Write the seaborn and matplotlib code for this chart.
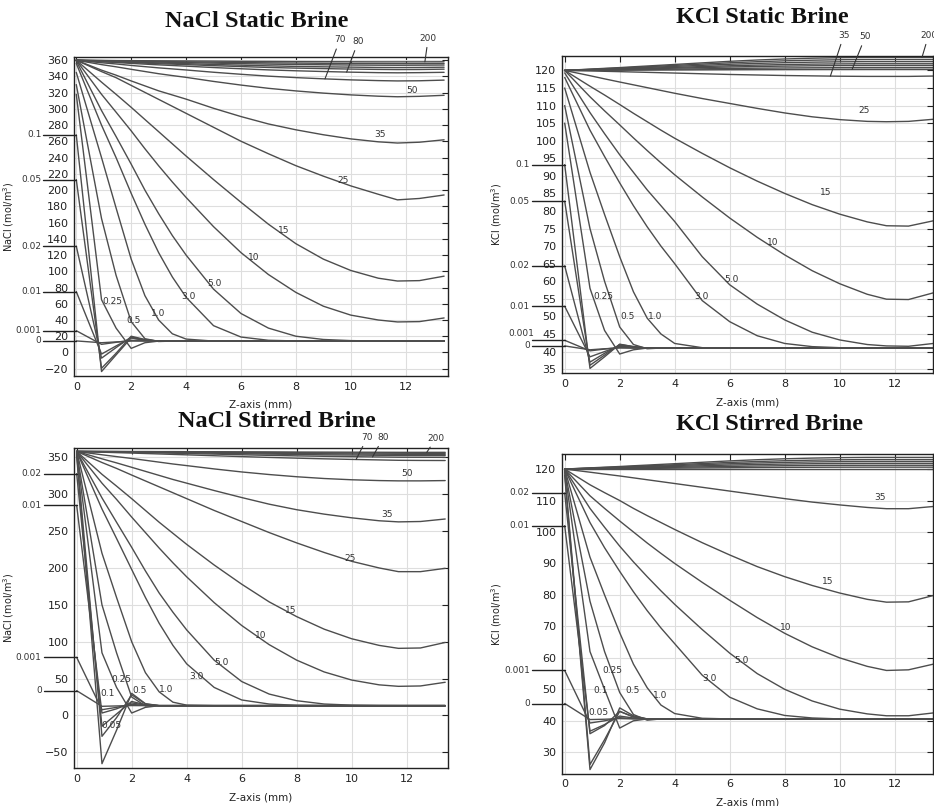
import numpy as np
import pandas as pd
import matplotlib
matplotlib.use("Agg")
import matplotlib.pyplot as plt
import seaborn as sns

# Sampling positions along the Z-axis (mm), shared by every profile
Z_MM = [0, 0.92, 1.45, 2.0, 2.5, 3.0, 3.5, 4.0, 5.0, 6.0, 7.0, 8.0, 9.0, 10.0, 11.0, 11.7, 12.5, 13.4]

# ---------------- NaCl, static brine (mol/m^3) ----------------
NACL_STATIC_TIMES = ["0", "0.001", "0.01", "0.02", "0.05", "0.1", "0.25", "0.5", "1.0", "3.0",
                     "5.0", "10", "15", "25", "35", "50", "70", "80", "100", "120", "150", "175", "200"]
NACL_STATIC = [
    [14.2, 12, 13, 14, 14, 14, 14, 14, 14, 14, 14, 14, 14, 14, 14, 14, 14, 14],
    [26.8, 10, 12.5, 15, 14.5, 14, 14, 14, 14, 14, 14, 14, 14, 14, 14, 14, 14, 14],
    [75, -2, 8, 18, 15, 14, 14, 14, 14, 14, 14, 14, 14, 14, 14, 14, 14, 14],
    [131, -7, 6, 19, 15.5, 14, 14, 14, 14, 14, 14, 14, 14, 14, 14, 14, 14, 14],
    [213, -19.5, -1, 20, 16, 14, 14, 14, 14, 14, 14, 14, 14, 14, 14, 14, 14, 14],
    [268, -23.5, -3, 18, 15, 14, 14, 14, 14, 14, 14, 14, 14, 14, 14, 14, 14, 14],
    [318, 65, 30, 5, 12, 14, 14, 14, 14, 14, 14, 14, 14, 14, 14, 14, 14, 14],
    [330, 165, 95, 38, 17, 13.5, 14, 14, 14, 14, 14, 14, 14, 14, 14, 14, 14, 14],
    [345, 240, 178, 115, 70, 40, 23, 16.5, 14, 14, 14, 14, 14, 14, 14, 14, 14, 14],
    [356, 280, 240, 196, 158, 123, 93, 68, 33, 19, 15, 14.2, 14, 14, 14, 14, 14, 14],
    [359, 298, 266, 232, 200, 171, 144, 120, 78, 48, 30, 20, 16, 14.6, 14.1, 14, 14, 14],
    [360, 318, 296, 273, 251, 230, 210, 191, 155, 123, 96, 74, 57, 46, 40, 37.6, 38, 42.5],
    [360, 333, 318, 302, 287, 272, 257, 242, 213, 185, 158, 134, 115, 101, 91.5, 88, 88.5, 94],
    [360, 346, 338.5, 329, 320.4, 311.8, 303.2, 294.6, 277.4, 260.2, 244.8, 230.1, 217.2, 205.2, 194.9, 188, 189.7, 194],
    [360, 347.8, 341.6, 334.5, 328.4, 322.3, 317.2, 312.1, 300.8, 290.6, 281.5, 274.3, 268.2, 263.1, 259.5, 258, 259, 262],
    [360, 354.6, 351.9, 348.8, 346.1, 343.4, 341.1, 338.9, 333.9, 329.4, 325.4, 322.2, 319.5, 317.3, 315.7, 315, 315.5, 316.8],
    [360, 356.9, 355.4, 353.6, 352.1, 350.6, 349.3, 348.0, 345.2, 342.7, 340.4, 338.6, 337.1, 335.8, 334.9, 334.5, 334.7, 335.5],
    [360, 358.1, 357.2, 356.1, 355.2, 354.3, 353.5, 352.7, 351.0, 349.5, 348.1, 347.0, 346.1, 345.3, 344.7, 344.5, 344.7, 345.1],
    [360, 358.6, 357.9, 357.1, 356.4, 355.7, 355.2, 354.6, 353.3, 352.2, 351.1, 350.3, 349.7, 349.1, 348.7, 348.5, 348.6, 349.0],
    [360, 358.9, 358.4, 357.8, 357.2, 356.7, 356.2, 355.8, 354.8, 353.9, 353.1, 352.4, 351.9, 351.5, 351.1, 351.0, 351.1, 351.4],
    [360, 359.3, 358.9, 358.5, 358.1, 357.7, 357.4, 357.1, 356.4, 355.8, 355.2, 354.8, 354.4, 354.1, 353.9, 353.8, 353.9, 354.1],
    [360, 359.5, 359.2, 358.9, 358.7, 358.4, 358.2, 358.0, 357.6, 357.1, 356.8, 356.5, 356.2, 356.0, 355.9, 355.8, 355.8, 356.0],
    [360, 359.8, 359.6, 359.5, 359.4, 359.3, 359.2, 359.1, 358.9, 358.6, 358.5, 358.3, 358.2, 358.1, 358.0, 358.0, 358.0, 358.1],
]

# ---------------- KCl, static brine (mol/m^3) ----------------
KCL_STATIC_TIMES = ["0", "0.001", "0.01", "0.02", "0.05", "0.1", "0.25", "0.5", "1.0", "3.0",
                    "5.0", "10", "15", "25", "35", "50", "70", "80", "100", "120", "150", "200"]
KCL_STATIC = [
    [41.6, 40.5, 40.8, 41, 41, 41, 41, 41, 41, 41, 41, 41, 41, 41, 41, 41, 41, 41],
    [43.2, 40.2, 40.7, 41.2, 41, 41, 41, 41, 41, 41, 41, 41, 41, 41, 41, 41, 41, 41],
    [52.9, 38.5, 40, 41.5, 41.2, 41, 41, 41, 41, 41, 41, 41, 41, 41, 41, 41, 41, 41],
    [64.4, 37, 39.5, 41.8, 41.3, 41, 41, 41, 41, 41, 41, 41, 41, 41, 41, 41, 41, 41],
    [82.8, 36.1, 39, 42, 41.4, 41, 41, 41, 41, 41, 41, 41, 41, 41, 41, 41, 41, 41],
    [93.2, 35.2, 38.5, 42.1, 41.4, 41, 41, 41, 41, 41, 41, 41, 41, 41, 41, 41, 41, 41],
    [105, 58, 46, 39.3, 40.5, 41, 41, 41, 41, 41, 41, 41, 41, 41, 41, 41, 41, 41],
    [110, 75, 60, 47, 42, 40.8, 41, 41, 41, 41, 41, 41, 41, 41, 41, 41, 41, 41],
    [115, 91, 79, 67, 57, 49.5, 45, 42.3, 41.1, 41, 41, 41, 41, 41, 41, 41, 41, 41],
    [118, 103, 95.5, 88, 81.5, 75.5, 70, 65, 54.5, 48.5, 44.5, 42.3, 41.4, 41.1, 41, 41, 41, 41],
    [119.3, 108, 102, 96, 91, 86, 81.5, 77, 67, 59, 53.5, 49, 45.5, 43.3, 42, 41.6, 41.5, 42.3],
    [120, 112.5, 108.5, 104.5, 100.8, 97.2, 93.7, 90.3, 84, 78, 72.5, 67.5, 63, 59.3, 56.3, 54.9, 54.8, 56.7],
    [120, 115.5, 113, 110.3, 107.8, 105.4, 103, 100.7, 96.4, 92.3, 88.5, 85, 81.8, 79.1, 76.9, 75.8, 75.7, 77.2],
    [120, 118.5, 117.6, 116.7, 115.9, 115.1, 114.3, 113.5, 112, 110.6, 109.2, 107.9, 106.8, 106, 105.5, 105.4, 105.5, 106.1],
    [120, 119.85, 119.75, 119.65, 119.55, 119.45, 119.35, 119.25, 119.05, 118.85, 118.7, 118.55, 118.45, 118.35, 118.3, 118.3, 118.3, 118.4],
    [120, 120.02, 120.04, 120.06, 120.08, 120.1, 120.12, 120.14, 120.18, 120.21, 120.24, 120.26, 120.28, 120.29, 120.3, 120.3, 120.3, 120.3],
    [120, 120.08, 120.13, 120.18, 120.22, 120.27, 120.32, 120.37, 120.46, 120.56, 120.64, 120.7, 120.75, 120.78, 120.8, 120.8, 120.8, 120.8],
    [120, 120.14, 120.22, 120.31, 120.39, 120.48, 120.56, 120.64, 120.81, 120.98, 121.12, 121.23, 121.32, 121.37, 121.4, 121.4, 121.4, 121.4],
    [120, 120.19, 120.3, 120.42, 120.53, 120.65, 120.76, 120.87, 121.1, 121.33, 121.52, 121.67, 121.79, 121.86, 121.9, 121.9, 121.9, 121.9],
    [120, 120.25, 120.4, 120.55, 120.7, 120.85, 121.0, 121.15, 121.45, 121.75, 122.0, 122.2, 122.35, 122.45, 122.5, 122.5, 122.5, 122.5],
    [120, 120.31, 120.5, 120.68, 120.87, 121.05, 121.24, 121.43, 121.8, 122.17, 122.48, 122.73, 122.91, 123.04, 123.1, 123.1, 123.1, 123.1],
    [120, 120.37, 120.59, 120.81, 121.04, 121.26, 121.48, 121.7, 122.15, 122.59, 122.96, 123.26, 123.48, 123.63, 123.7, 123.7, 123.7, 123.7],
]

# ---------------- NaCl, stirred brine (mol/m^3) ----------------
NACL_STIRRED_TIMES = ["0", "0.001", "0.01", "0.02", "0.05", "0.1", "0.25", "0.5", "1.0", "3.0",
                      "5.0", "10", "15", "25", "35", "50", "70", "80", "100", "120", "150", "200"]
NACL_STIRRED = [
    [33.6, 12.4, 12.9, 13.4, 13.3, 13.3, 13.3, 13.3, 13.3, 13.3, 13.3, 13.3, 13.3, 13.3, 13.3, 13.3, 13.3, 13.3],
    [78.8, 7.8, 11, 15, 13.6, 13.3, 13.3, 13.3, 13.3, 13.3, 13.3, 13.3, 13.3, 13.3, 13.3, 13.3, 13.3, 13.3],
    [284.9, 3.3, 9, 17, 14, 13.3, 13.3, 13.3, 13.3, 13.3, 13.3, 13.3, 13.3, 13.3, 13.3, 13.3, 13.3, 13.3],
    [327.9, -14.7, 2, 19, 14.5, 13.3, 13.3, 13.3, 13.3, 13.3, 13.3, 13.3, 13.3, 13.3, 13.3, 13.3, 13.3, 13.3],
    [352, -65.4, -20, 30, 16, 13.3, 13.3, 13.3, 13.3, 13.3, 13.3, 13.3, 13.3, 13.3, 13.3, 13.3, 13.3, 13.3],
    [355, -28.3, -3, 28, 15.5, 13.3, 13.3, 13.3, 13.3, 13.3, 13.3, 13.3, 13.3, 13.3, 13.3, 13.3, 13.3, 13.3],
    [356, 85, 38, 3.3, 11, 13.3, 13.3, 13.3, 13.3, 13.3, 13.3, 13.3, 13.3, 13.3, 13.3, 13.3, 13.3, 13.3],
    [357, 150, 85, 25, 13, 13.3, 13.3, 13.3, 13.3, 13.3, 13.3, 13.3, 13.3, 13.3, 13.3, 13.3, 13.3, 13.3],
    [358, 220, 160, 100, 58, 32, 18, 14, 13.3, 13.3, 13.3, 13.3, 13.3, 13.3, 13.3, 13.3, 13.3, 13.3],
    [358, 280, 240, 198, 160, 125, 95, 70, 38, 21, 15.5, 13.8, 13.4, 13.3, 13.3, 13.3, 13.3, 13.3],
    [358, 295, 262, 228, 196, 166, 140, 116, 75, 46, 29, 20, 15.5, 14, 13.4, 13.3, 13.3, 13.3],
    [358, 315, 293, 269, 248, 227, 207, 188, 153, 122, 96, 75, 59, 48, 41.5, 39.5, 40, 45],
    [358, 327, 311, 294, 278, 262, 247, 232, 204, 178, 154, 134, 117, 104, 95, 91, 91.5, 99],
    [358, 343, 335, 326, 318, 310, 302, 294, 278, 263, 248, 234, 221, 209, 200, 195, 195, 199.5],
    [358, 348, 342.5, 336.5, 331, 325.5, 320, 315, 305, 295.5, 286.5, 279, 273, 268, 264, 262.5, 263, 266.4],
    [358, 353.5, 351, 348.5, 346, 343.5, 341, 338.8, 334.3, 330.2, 326.7, 323.7, 321.3, 319.6, 318.5, 318.1, 318.1, 318.5],
    [358, 357, 356.4, 355.8, 355.2, 354.6, 354, 353.4, 352.2, 351, 349.9, 348.9, 348, 347.2, 346.5, 346, 345.8, 345.7],
    [358, 357.5, 357.2, 356.8, 356.4, 356, 355.6, 355.2, 354.4, 353.5, 352.7, 352, 351.4, 350.9, 350.5, 350.2, 350.1, 350],
    [358, 357.7, 357.5, 357.3, 357.1, 356.8, 356.5, 356.2, 355.6, 355, 354.4, 353.9, 353.4, 353.1, 352.8, 352.6, 352.5, 352.5],
    [358, 357.8, 357.7, 357.5, 357.4, 357.2, 357, 356.8, 356.4, 356, 355.6, 355.2, 354.9, 354.6, 354.3, 354.1, 354, 354],
    [358, 357.9, 357.8, 357.7, 357.6, 357.5, 357.4, 357.3, 357.1, 356.8, 356.5, 356.3, 356.1, 355.9, 355.7, 355.6, 355.5, 355.5],
    [358, 358, 358, 357.9, 357.9, 357.8, 357.8, 357.7, 357.6, 357.5, 357.4, 357.2, 357.1, 357, 356.9, 356.8, 356.8, 356.8],
]

# ---------------- KCl, stirred brine (mol/m^3) ----------------
KCL_STIRRED_TIMES = ["0", "0.001", "0.01", "0.02", "0.05", "0.1", "0.25", "0.5", "1.0", "3.0",
                     "5.0", "10", "15", "35", "50", "70", "80", "100", "120", "150", "200"]
KCL_STIRRED = [
    [45.5, 40.4, 40.5, 40.7, 40.6, 40.6, 40.6, 40.6, 40.6, 40.6, 40.6, 40.6, 40.6, 40.6, 40.6, 40.6, 40.6, 40.6],
    [56, 39.3, 40, 41, 40.7, 40.6, 40.6, 40.6, 40.6, 40.6, 40.6, 40.6, 40.6, 40.6, 40.6, 40.6, 40.6, 40.6],
    [102, 36.7, 38.8, 41.5, 40.9, 40.6, 40.6, 40.6, 40.6, 40.6, 40.6, 40.6, 40.6, 40.6, 40.6, 40.6, 40.6, 40.6],
    [112.4, 35.9, 38.5, 43, 41.2, 40.6, 40.6, 40.6, 40.6, 40.6, 40.6, 40.6, 40.6, 40.6, 40.6, 40.6, 40.6, 40.6],
    [118, 24.5, 33, 44.1, 41.6, 40.6, 40.6, 40.6, 40.6, 40.6, 40.6, 40.6, 40.6, 40.6, 40.6, 40.6, 40.6, 40.6],
    [119, 26.1, 34, 43, 41.3, 40.6, 40.6, 40.6, 40.6, 40.6, 40.6, 40.6, 40.6, 40.6, 40.6, 40.6, 40.6, 40.6],
    [119.5, 62, 50, 37.7, 40, 40.6, 40.6, 40.6, 40.6, 40.6, 40.6, 40.6, 40.6, 40.6, 40.6, 40.6, 40.6, 40.6],
    [119.8, 78, 62, 49, 42, 40.2, 40.6, 40.6, 40.6, 40.6, 40.6, 40.6, 40.6, 40.6, 40.6, 40.6, 40.6, 40.6],
    [120, 92, 80, 68, 58, 50.5, 45, 42.3, 40.8, 40.6, 40.6, 40.6, 40.6, 40.6, 40.6, 40.6, 40.6, 40.6],
    [120, 103, 95, 87.5, 81, 75, 69.5, 64.5, 54.5, 47.5, 43.8, 41.7, 40.9, 40.6, 40.6, 40.6, 40.6, 40.6],
    [120, 107.5, 101.5, 95.5, 90.5, 85.8, 81.3, 77, 69, 61.5, 55, 50, 46.3, 43.7, 42.2, 41.6, 41.6, 42.5],
    [120, 111.5, 107.5, 103.5, 100, 96.5, 93.2, 90, 84, 78.3, 72.8, 67.8, 63.5, 60, 57.3, 56, 56.2, 58],
    [120, 115, 112.5, 110, 107.5, 105.2, 103, 100.8, 96.6, 92.7, 89, 85.8, 83, 80.6, 78.6, 77.7, 77.8, 79.8],
    [120, 119, 118.4, 117.8, 117.2, 116.6, 116, 115.4, 114.2, 113, 111.8, 110.6, 109.5, 108.6, 107.8, 107.4, 107.4, 108.1],
    [120, 120, 120, 120, 120, 120, 120, 120, 120, 120, 120, 120, 120, 120, 120, 120, 120, 120],
    [120, 120.06, 120.1, 120.13, 120.17, 120.2, 120.24, 120.28, 120.35, 120.42, 120.48, 120.53, 120.56, 120.59, 120.6, 120.6, 120.6, 120.6],
    [120, 120.12, 120.19, 120.26, 120.34, 120.41, 120.48, 120.55, 120.7, 120.84, 120.96, 121.06, 121.13, 121.18, 121.2, 121.2, 121.2, 121.2],
    [120, 120.18, 120.29, 120.4, 120.5, 120.61, 120.72, 120.83, 121.04, 121.26, 121.44, 121.58, 121.69, 121.76, 121.8, 121.8, 121.8, 121.8],
    [120, 120.24, 120.38, 120.53, 120.67, 120.82, 120.96, 121.1, 121.39, 121.68, 121.92, 122.11, 122.26, 122.35, 122.4, 122.4, 122.4, 122.4],
    [120, 120.3, 120.48, 120.66, 120.84, 121.02, 121.2, 121.38, 121.74, 122.1, 122.4, 122.64, 122.82, 122.94, 123, 123, 123, 123],
    [120, 120.37, 120.59, 120.81, 121.04, 121.26, 121.48, 121.7, 122.15, 122.59, 122.96, 123.26, 123.48, 123.63, 123.7, 123.7, 123.7, 123.7],
]

# Times whose start value is tagged in the left margin
NACL_STATIC_TAGS = ["0.1", "0.05", "0.02", "0.01", "0.001", "0"]
KCL_STATIC_TAGS = ["0.1", "0.05", "0.02", "0.01", "0.001", "0"]
NACL_STIRRED_TAGS = ["0.02", "0.01", "0.001", "0"]
KCL_STIRRED_TAGS = ["0.02", "0.01", "0.001", "0"]
# Tags whose text sits above its line rather than beside it (crowded margin)
KCL_STATIC_RAISED = ["0.001"]

# In-plot time labels: (text, z, concentration) placement
NACL_STATIC_LABELS = [("0.25", 1.3, 63), ("0.5", 2.1, 39), ("1.0", 2.99, 48), ("3.0", 4.1, 69),
                      ("5.0", 5.05, 85), ("10", 6.45, 117), ("15", 7.54, 150), ("25", 9.73, 212),
                      ("35", 11.06, 268), ("50", 12.22, 323)]
KCL_STATIC_LABELS = [("0.25", 1.42, 55.8), ("0.5", 2.27, 49.9), ("1.0", 3.3, 49.9), ("3.0", 4.99, 55.8),
                     ("5.0", 6.06, 60.5), ("10", 7.58, 71), ("15", 9.5, 85.2), ("25", 10.87, 108.7)]
NACL_STIRRED_LABELS = [("0.05", 1.27, -13.8), ("0.1", 1.13, 30.4), ("0.25", 1.64, 49.4), ("0.5", 2.3, 33.6),
                       ("1.0", 3.27, 35), ("3.0", 4.36, 53), ("5.0", 5.27, 72), ("10", 6.7, 108.2),
                       ("15", 7.78, 142.5), ("25", 9.94, 213.5), ("35", 11.3, 273), ("50", 12.02, 327.9)]
KCL_STIRRED_LABELS = [("0.05", 1.24, 42.7), ("0.1", 1.3, 49.7), ("0.25", 1.72, 55.9), ("0.5", 2.45, 49.7),
                      ("1.0", 3.48, 48.1), ("3.0", 5.26, 53.6), ("5.0", 6.41, 59.2), ("10", 8.02, 69.7),
                      ("15", 9.58, 84.3), ("35", 11.48, 110.8)]

# Leader-line callouts above the plot: (time, text z, text conc, z where the leader meets the curve)
NACL_STATIC_CALLOUTS = [("70", 9.6, 385, 9.06), ("80", 10.27, 383, 9.85), ("200", 12.82, 387, 12.7)]
KCL_STATIC_CALLOUTS = [("35", 10.15, 130, 9.66), ("50", 10.93, 129.6, 10.45), ("200", 13.23, 130, 12.99)]
NACL_STIRRED_CALLOUTS = [("70", 10.57, 377, 10.16), ("80", 11.15, 377, 10.76), ("200", 13.07, 376, 12.73)]
KCL_STIRRED_CALLOUTS = []

CURVE_COLOR = "#4d4d4d"
TEXT_COLOR = "#333333"

sns.set_style("white")
plt.rcParams["font.family"] = ["DejaVu Sans"]
plt.rcParams["mathtext.fontset"] = "dejavusans"

fig = plt.figure(figsize=(9.34, 8.06), dpi=100)
fig.patch.set_facecolor("white")


def draw_panel(rect, times, rows, xlim, ylim, yticks, title, title_xy, ylabel,
               tags, labels, callouts, raised=()):
    ax = fig.add_axes(rect)
    records = []
    for t, row in zip(times, rows):
        for z, c in zip(Z_MM, row):
            records.append({"time": t, "z": z, "c": c})
    df = pd.DataFrame(records)
    sns.lineplot(data=df, x="z", y="c", units="time", estimator=None, sort=False,
                 color=CURVE_COLOR, lw=1.0, ax=ax, legend=False)

    ax.set_xlim(*xlim)
    ax.set_ylim(*ylim)
    ax.set_xticks([0, 2, 4, 6, 8, 10, 12])
    ax.set_yticks(yticks)
    ax.grid(True, color="#dedede", lw=0.8)
    ax.set_axisbelow(True)
    ax.tick_params(direction="in", top=True, right=True, length=4, width=0.8,
                   labelsize=8, colors="#222222", pad=4)
    for s in ax.spines.values():
        s.set_color("#222222")
        s.set_linewidth(1.0)

    ax.set_xlabel("Z-axis (mm)", fontsize=7.5, color="#222222")
    ax.set_ylabel(ylabel, fontsize=7, color="#222222")
    ax.xaxis.set_label_coords(0.5, -0.075)
    ax.yaxis.set_label_coords(-0.156, 0.5)

    lookup = dict(zip(times, rows))
    # margin tags marking the starting concentration of the shortest times
    for t in tags:
        y0 = lookup[t][0]
        ax.plot([-1.2, 0], [y0, y0], color="#222222", lw=1.0, clip_on=False)
        if t in raised:
            ax.annotate(t, xy=(-1.12, y0), xytext=(0, 1.5), textcoords="offset points",
                        ha="right", va="bottom", fontsize=6.5, color=TEXT_COLOR,
                        annotation_clip=False)
        else:
            ax.text(-1.27, y0, t, ha="right", va="center", fontsize=6.5, color=TEXT_COLOR,
                    clip_on=False)

    for text, x, y in labels:
        ax.text(x, y, text, ha="center", va="center", fontsize=6.5, color=TEXT_COLOR)

    for t, tx, ty, zx in callouts:
        cy = float(np.interp(zx, Z_MM, lookup[t]))
        ax.annotate(t, xy=(zx, cy), xytext=(tx, ty), textcoords="data",
                    ha="center", va="center", fontsize=6.5, color=TEXT_COLOR,
                    arrowprops=dict(arrowstyle="-", color="#333333", lw=0.8,
                                    shrinkA=1, shrinkB=0),
                    annotation_clip=False)

    fig.text(title_xy[0], title_xy[1], title, ha="center", va="center",
             fontsize=17.5, fontweight="bold", family="Liberation Serif", color="#111111")
    return ax


draw_panel([0.0792, 0.5335, 0.4004, 0.3958], NACL_STATIC_TIMES, NACL_STATIC,
           (-0.084, 13.54), (-29, 364), list(range(-20, 361, 20)),
           "NaCl Static Brine", (0.2752, 0.973), "NaCl (mol/m$^3$)",
           NACL_STATIC_TAGS, NACL_STATIC_LABELS, NACL_STATIC_CALLOUTS)

draw_panel([0.6017, 0.5368, 0.3972, 0.3937], KCL_STATIC_TIMES, KCL_STATIC,
           (-0.098, 13.39), (33.8, 124.1), list(range(35, 121, 5)),
           "KCl Static Brine", (0.8158, 0.9785), "KCl (mol/m$^3$)",
           KCL_STATIC_TAGS, KCL_STATIC_LABELS, KCL_STATIC_CALLOUTS, KCL_STATIC_RAISED)

draw_panel([0.0792, 0.0471, 0.4004, 0.397], NACL_STIRRED_TIMES, NACL_STIRRED,
           (-0.098, 13.5), (-71.3, 362.6), list(range(-50, 351, 50)),
           "NaCl Stirred Brine", (0.2963, 0.4773), "NaCl (mol/m$^3$)",
           NACL_STIRRED_TAGS, NACL_STIRRED_LABELS, NACL_STIRRED_CALLOUTS)

draw_panel([0.6017, 0.0401, 0.3972, 0.3967], KCL_STIRRED_TIMES, KCL_STIRRED,
           (-0.098, 13.39), (23.2, 124.8), list(range(30, 121, 10)),
           "KCl Stirred Brine", (0.8244, 0.4731), "KCl (mol/m$^3$)",
           KCL_STIRRED_TAGS, KCL_STIRRED_LABELS, KCL_STIRRED_CALLOUTS)

fig.savefig("out.png", dpi=100, facecolor="white")
